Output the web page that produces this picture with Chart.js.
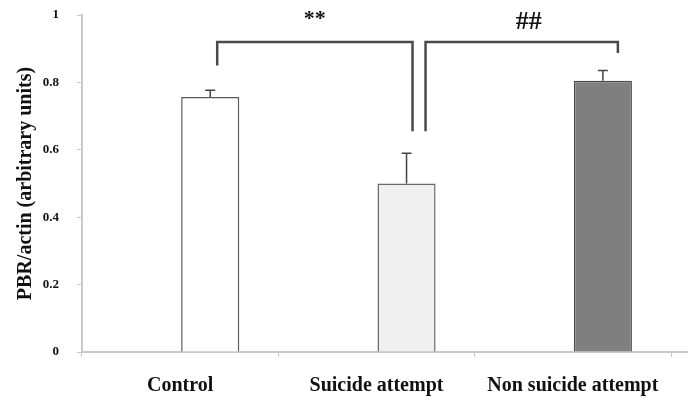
<!DOCTYPE html>
<html>
<head>
<meta charset="utf-8">
<script src="https://cdn.jsdelivr.net/npm/chart.js@4"></script>
<style>
  html, body { margin: 0; padding: 0; background: #fff; }
  #wrap { width: 688px; height: 400px; }
</style>
</head>
<body>
<div id="wrap"><canvas id="grafico" width="688" height="400"></canvas></div>
<script>
// dados
const categorias = ['Control', 'Suicide attempt', 'Non suicide attempt'];
const medias = [0.757, 0.50, 0.805];
const erros = [0.02, 0.09, 0.03];
const coresBarra = ['#ffffff', '#f0f0f0', '#7f7f7f'];
const coresBorda = ['#5a5a5a', '#6a6a6a', '#4a4a4a'];
const yTicks = [0, 0.2, 0.4, 0.6, 0.8, 1];

// colchetes de significancia: [barra inicial, barra final, topo, fim esq, fim dir, rotulo]
const colchetes = [
  [0, 1, 0.92, 0.85, 0.655, '**'],
  [1, 2, 0.92, 0.655, 0.887, '##']
];

const fonteSerif = '"Liberation Serif", "DejaVu Serif", serif';

// barras de erro (somente para cima) e colchetes
const extras = {
  id: 'extras',
  afterDatasetsDraw(chart) {
    const ctx = chart.ctx;
    const y = chart.scales.y;
    const meta = chart.getDatasetMeta(1);
    ctx.save();
    ctx.strokeStyle = '#444';
    ctx.lineWidth = 1.5;
    meta.data.forEach((bar, i) => {
      const yTopo = y.getPixelForValue(medias[i]);
      const yErro = y.getPixelForValue(medias[i] + erros[i]);
      ctx.beginPath();
      ctx.moveTo(bar.x, yTopo);
      ctx.lineTo(bar.x, yErro);
      ctx.moveTo(bar.x - 5, yErro);
      ctx.lineTo(bar.x + 5, yErro);
      ctx.stroke();
    });

    ctx.strokeStyle = '#4a4a4a';
    ctx.lineWidth = 2.5;
    ctx.fillStyle = '#111';
    ctx.textAlign = 'center';
    ctx.textBaseline = 'alphabetic';
    const desloc = [[7, 6], [19, 15]];
    colchetes.forEach((c, k) => {
      const x1 = meta.data[c[0]].x + desloc[k][0];
      const x2 = meta.data[c[1]].x + desloc[k][1];
      const yt = y.getPixelForValue(c[2]);
      ctx.beginPath();
      ctx.moveTo(x1, y.getPixelForValue(c[3]));
      ctx.lineTo(x1, yt);
      ctx.lineTo(x2, yt);
      ctx.lineTo(x2, y.getPixelForValue(c[4]));
      ctx.stroke();
      const estrela = c[5] === '**';
      ctx.font = 'bold ' + (estrela ? 22 : 26) + 'px ' + fonteSerif;
      ctx.fillText(c[5], (x1 + x2) / 2 + (estrela ? 0 : 7), yt - (estrela ? 17 : 13));
    });

    // prolongar o eixo x ate a borda
    ctx.strokeStyle = '#c8c8c8';
    ctx.lineWidth = 2;
    ctx.beginPath();
    ctx.moveTo(chart.chartArea.right, y.getPixelForValue(0));
    ctx.lineTo(chart.width, y.getPixelForValue(0));
    ctx.stroke();
    ctx.restore();
  }
};

new Chart(document.getElementById('grafico').getContext('2d'), {
  type: 'bar',
  data: {
    labels: categorias,
    datasets: [
      { label: 'vazio', data: categorias.map(() => null) },
      {
        label: 'PBR/actin',
        data: medias,
        backgroundColor: coresBarra,
        borderColor: coresBorda,
        borderWidth: 1.5,
        borderSkipped: 'bottom'
      }
    ]
  },
  options: {
    responsive: false,
    animation: false,
    categoryPercentage: 0.612,
    barPercentage: 0.967,
    layout: { padding: { top: 15, right: 17, left: 0, bottom: 0 } },
    plugins: { legend: { display: false }, tooltip: { enabled: false } },
    scales: {
      x: {
        grid: { drawOnChartArea: false, drawTicks: true, tickLength: 5, color: '#c8c8c8', offset: true },
        border: { color: '#c8c8c8', width: 2 },
        ticks: { color: '#111', padding: 17, font: { family: fonteSerif, size: 20, weight: 'bold' } },
        afterFit(s) { s.height = 48; }
      },
      y: {
        min: 0,
        max: 1,
        afterBuildTicks(s) { s.ticks = yTicks.map(v => ({ value: v })); },
        grid: { drawOnChartArea: false, drawTicks: true, tickLength: 5, color: '#c8c8c8' },
        border: { color: '#c8c8c8', width: 2 },
        ticks: {
          color: '#111',
          padding: 18,
          font: { family: fonteSerif, size: 13, weight: 'bold' },
          callback: v => String(Math.round(v * 10) / 10)
        },
        title: {
          display: true,
          text: 'PBR/actin (arbitrary units)',
          color: '#111',
          font: { family: fonteSerif, size: 20, weight: 'bold' },
          padding: { top: 14, bottom: 0 }
        },
        afterFit(s) {
          s.width = 82;
          s.paddingTop = 0;
          s.paddingBottom = 0;
        }
      }
    }
  },
  plugins: [extras]
});
</script>
</body>
</html>
